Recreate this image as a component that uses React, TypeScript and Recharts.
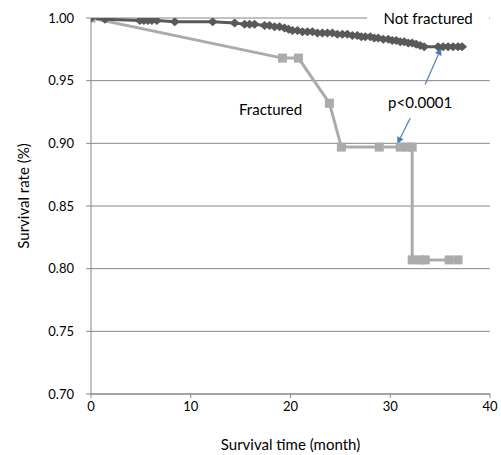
import {
    LineChart,
    Line,
    XAxis,
    YAxis,
    CartesianGrid,
    ReferenceLine,
    ReferenceDot,
    Label,
} from 'recharts'

// survival curves (months, survival rate)
const notFracturedTime = [
    0, 1.4, 4.9, 5.3, 5.7, 6.1, 6.6, 8.4, 12.2, 14.4, 15.4, 15.9, 16.4, 17.4, 17.9, 18.4, 18.9,
    19.4, 19.8, 20.2, 20.7, 21.2, 21.7, 22.2, 22.7, 23.2, 23.7, 24.2, 24.7, 25.2, 25.7, 26.2,
    26.7, 27.1, 27.5, 28.0, 28.4, 28.8, 29.3, 29.8, 30.2, 30.6, 31.0, 31.4, 31.8, 32.2, 32.6,
    33.0, 33.4, 34.8, 35.3, 35.8, 36.3, 36.8, 37.2,
]
const notFracturedRate = [
    1.0, 0.999, 0.998, 0.998, 0.998, 0.998, 0.998, 0.997, 0.997, 0.996, 0.995, 0.995, 0.995,
    0.994, 0.994, 0.993, 0.993, 0.992, 0.991, 0.99, 0.99, 0.989, 0.989, 0.989, 0.988, 0.988,
    0.988, 0.988, 0.987, 0.987, 0.987, 0.986, 0.986, 0.985, 0.985, 0.985, 0.984, 0.984, 0.983,
    0.983, 0.982, 0.982, 0.981, 0.981, 0.98, 0.98, 0.979, 0.978, 0.977, 0.977, 0.977, 0.977,
    0.977, 0.977, 0.977,
]

const fracturedTime = [0, 19.2, 20.8, 23.9, 25.1, 28.9, 31.0, 31.7, 32.2, 32.2, 33.0, 33.5, 35.9, 36.8]
const fracturedRate = [1.0, 0.968, 0.968, 0.932, 0.897, 0.897, 0.897, 0.897, 0.897, 0.807, 0.807, 0.807, 0.807, 0.807]

const xTicks = [0, 10, 20, 30, 40]
const yTicks = [0.7, 0.75, 0.8, 0.85, 0.9, 0.95, 1.0]

const notFractured = notFracturedTime.map((t, i) => ({ t, s: notFracturedRate[i] }))
const fractured = fracturedTime.map((t, i) => ({ t, s: fracturedRate[i] }))

const FONT = 'Lato, "Open Sans", sans-serif'
const DARK = '#595959'
const LIGHT = '#ababab'
const AXIS = '#868686'
const ARROW = '#4a7ebb'

const Diamond = (props: any) => {
    const { cx, cy } = props
    if (cx == null || cy == null) return null
    return <polygon points={`${cx},${cy - 4.5} ${cx + 5},${cy} ${cx},${cy + 4.5} ${cx - 5},${cy}`} fill={DARK} />
}

const Square = (props: any) => {
    const { cx, cy } = props
    if (cx == null || cy == null) return null
    return <rect x={cx - 4.5} y={cy - 4.5} width={9} height={9} fill={LIGHT} />
}

const Arrow = (props: any) => {
    const { x1, y1, x2, y2 } = props
    if (x1 == null) return null
    const ang = Math.atan2(y2 - y1, x2 - x1)
    const len = 7
    const w = 3.5
    const bx = x2 - len * Math.cos(ang)
    const by = y2 - len * Math.sin(ang)
    const px = -Math.sin(ang) * w
    const py = Math.cos(ang) * w
    return (
        <g>
            <line x1={x1} y1={y1} x2={bx} y2={by} stroke={ARROW} strokeWidth={1.2} />
            <polygon points={`${x2},${y2} ${bx + px},${by + py} ${bx - px},${by - py}`} fill={ARROW} />
        </g>
    )
}

const textShape = (text: string, boxWidth?: number) => (props: any) => {
    const { cx, cy } = props
    if (cx == null) return null
    return (
        <g>
            {boxWidth && <rect x={cx - boxWidth / 2} y={cy - 11} width={boxWidth} height={22} fill="#fff" />}
            <text x={cx} y={cy} textAnchor="middle" dominantBaseline="central" fontSize={15} fontFamily={FONT} fill="#000">
                {text}
            </text>
        </g>
    )
}

export default function App() {
    return (
        <div style={{ position: 'absolute', left: 0, top: 0, width: 501, height: 455, background: '#fff' }}>
            <LineChart width={501} height={455} margin={{ top: 18, right: 11, left: 31, bottom: 31 }}>
                <CartesianGrid vertical={false} stroke={AXIS} strokeWidth={1} />
                <XAxis
                    type="number"
                    dataKey="t"
                    domain={[0, 40]}
                    ticks={xTicks}
                    height={30}
                    stroke={AXIS}
                    tickSize={4}
                    tickMargin={4}
                    tick={{ fill: '#000', fontSize: 13, fontFamily: FONT }}
                    allowDataOverflow
                >
                    <Label
                        content={({ viewBox }: any) => (
                            <text x={viewBox.x + viewBox.width / 2} y={444} textAnchor="middle" dominantBaseline="central" fontSize={15} fontFamily={FONT} fill="#000">
                                Survival time (month)
                            </text>
                        )}
                    />
                </XAxis>
                <YAxis
                    type="number"
                    domain={[0.7, 1.0]}
                    ticks={yTicks}
                    width={60}
                    stroke={AXIS}
                    tickSize={5}
                    tickMargin={12}
                    tickFormatter={(v: number) => v.toFixed(2)}
                    tick={{ fill: '#000', fontSize: 13, fontFamily: FONT }}
                    allowDataOverflow
                >
                    <Label
                        content={({ viewBox }: any) => {
                            const x = viewBox.x - 8
                            const y = viewBox.y + viewBox.height / 2 - 10
                            return (
                                <text x={x} y={y} transform={`rotate(-90, ${x}, ${y})`} textAnchor="middle" dominantBaseline="central" fontSize={15} fontFamily={FONT} fill="#000">
                                    Survival rate (%)
                                </text>
                            )
                        }}
                    />
                </YAxis>

                <ReferenceDot x={33.8} y={1.0} r={0} ifOverflow="visible" shape={textShape('Not fractured', 122)} />
                <ReferenceDot x={18.0} y={0.927} r={0} ifOverflow="visible" shape={textShape('Fractured')} />
                <ReferenceDot x={33.0} y={0.933} r={0} ifOverflow="visible" shape={textShape('p<0.0001')} />

                <Line
                    data={fractured}
                    dataKey="s"
                    stroke={LIGHT}
                    strokeWidth={3}
                    dot={<Square />}
                    activeDot={false}
                    isAnimationActive={false}
                />
                <Line
                    data={notFractured}
                    dataKey="s"
                    stroke={DARK}
                    strokeWidth={3}
                    dot={<Diamond />}
                    activeDot={false}
                    isAnimationActive={false}
                />

                <ReferenceLine segment={[{ x: 33.5, y: 0.947 }, { x: 35.1, y: 0.976 }]} ifOverflow="visible" shape={<Arrow />} />
                <ReferenceLine segment={[{ x: 32.0, y: 0.92 }, { x: 30.7, y: 0.8995 }]} ifOverflow="visible" shape={<Arrow />} />
            </LineChart>
        </div>
    )
}
